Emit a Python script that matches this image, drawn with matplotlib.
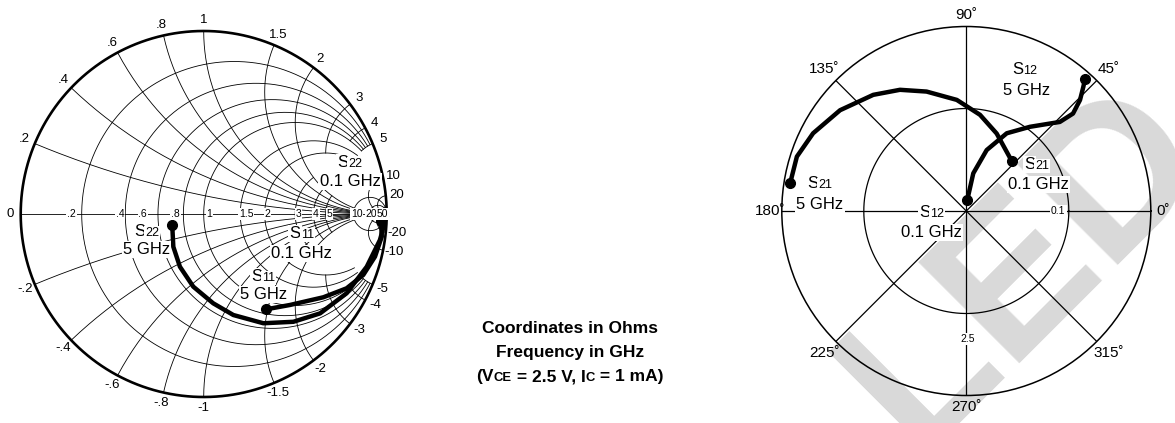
import numpy as np
import matplotlib
matplotlib.use("Agg")
import matplotlib.pyplot as plt
from matplotlib import transforms

FONT = "Liberation Sans"
plt.rcParams["font.family"] = [FONT, "DejaVu Sans"]

# ---- data ----
# Smith chart (reflection coefficient, real / imag), 0.1 GHz -> 5 GHz
s11_re = [0.969, 0.973, 0.936, 0.872, 0.781, 0.654, 0.472, 0.340]
s11_im = [-0.038, -0.124, -0.233, -0.333, -0.406, -0.455, -0.497, -0.521]
s22_re = [0.982, 0.981, 0.963, 0.891, 0.781, 0.636, 0.490, 0.326, 0.162, 0.052, -0.057, -0.130, -0.166, -0.172]
s22_im = [-0.011, -0.077, -0.142, -0.288, -0.433, -0.543, -0.589, -0.597, -0.552, -0.488, -0.397, -0.288, -0.179, -0.060]

# polar chart, 0.1 GHz -> 5 GHz
s21_mag = [1.65, 2.03, 2.37, 2.72, 3.07, 3.37, 3.63, 3.94, 4.19, 4.34, 4.35]
s21_ang = [47.9, 68.6, 81.9, 94.9, 108.4, 118.7, 128.7, 141.4, 153.1, 162.2, 171.1]
s12_mag = [0.0107, 0.0374, 0.0627, 0.0855, 0.103, 0.126, 0.141, 0.155, 0.1665, 0.173]
s12_ang = [85, 79.5, 71.5, 62.5, 52.9, 43.6, 42.4, 44.3, 46.7, 48]

# Smith grid values and how far each line runs
r_vals = [0.2, 0.4, 0.6, 0.8, 1, 1.5, 2, 3, 4, 5, 10, 20, 50]
r_xmax = [5, 5, 5, 5, 5, 5, 5, 2, 2, 2, None, None, None]
x_vals = [0.2, 0.4, 0.6, 0.8, 1, 1.5, 2, 3, 4, 5, 10, 20, 50]
x_rmax = [10, 10, 10, 10, 10, 10, 10, 2, 1, 1, None, None, None]
axis_labels = [".2", ".4", ".6", ".8", "1", "1.5", "2", "3", "4", "5", "10", "20", "50"]
axis_label_x = [71.7, 120, 142.7, 175.7, 209.3, 246, 267.3, 298.3, 316, 329.3, 356.7, 371.7, 382.7]
rim_labels = ["0", ".2", ".4", ".6", ".8", "1", "1.5", "2", "3", "4", "5", "10", "20"]

polar_angles = [0, 45, 90, 135, 180, 225, 270, 315]
S21_MAX = 4.5
S12_TO_S21 = 25.0   # 0.1 on the S12 scale sits on the 2.5 ring

W, H = 1175, 423
fig = plt.figure(figsize=(W / 100, H / 100), dpi=100)

# watermark in the back
bg = fig.add_axes([0, 0, 1, 1], zorder=0)
bg.set_xlim(0, W); bg.set_ylim(H, 0); bg.axis("off")
bg.text(1025, 267, "LED", fontsize=150, fontweight="bold", color="#d9d9d9",
        rotation=45, rotation_mode="anchor", ha="center", va="center")

# ---- Smith chart ----
CX, CY, R = 203.7, 214.0, 183.0
ax = fig.add_axes([0, 0, 410 / W, 1], zorder=1)
ax.set_xlim((0 - CX) / R, (410 - CX) / R)
ax.set_ylim((CY - H) / R, CY / R)
ax.axis("off")
ax.patch.set_visible(False)


def gamma(z):
    g = (z - 1) / (z + 1)
    return g.real, g.imag


grid_kw = dict(color="black", lw=0.6, zorder=1)
for r, xm in zip(r_vals, r_xmax):
    if xm is None:
        t = np.linspace(0, 2 * np.pi, 600)
        c, rho = r / (1 + r), 1 / (1 + r)
        ax.plot(c + rho * np.cos(t), rho * np.sin(t), **grid_kw)
    else:
        xs = np.linspace(-xm, xm, 800)
        ax.plot(*gamma(r + 1j * xs), **grid_kw)

for xv, rm in zip(x_vals, x_rmax):
    if rm is None:
        rs = np.concatenate([np.linspace(0, 10, 400), np.geomspace(10, 1e5, 400)])
    else:
        rs = np.linspace(0, rm, 500)
    for s in (1, -1):
        ax.plot(*gamma(rs + 1j * s * xv), **grid_kw)

ax.plot([-1, 1], [0, 0], **grid_kw)
t = np.linspace(0, 2 * np.pi, 800)
ax.plot(np.cos(t), np.sin(t), color="black", lw=1.9, zorder=2)

ax.plot(s11_re, s11_im, color="black", lw=3.2, solid_capstyle="round", zorder=6)
ax.plot(s22_re, s22_im, color="black", lw=3.2, solid_capstyle="round", zorder=6)
ax.plot([s11_re[0], s11_re[-1]], [s11_im[0], s11_im[-1]], "o", color="black", ms=7, zorder=7)
ax.plot([s22_re[0], s22_re[-1]], [s22_im[0], s22_im[-1]], "o", color="black", ms=7, zorder=7)

# ---- polar chart ----
PX, PY, PR = 966.3, 211.0, 184.5
pax = fig.add_axes([(PX - PR) / W, (H - PY - PR) / H, 2 * PR / W, 2 * PR / H],
                   projection="polar", zorder=1)
pax.set_ylim(0, S21_MAX)
pax.set_xticks([]); pax.set_yticks([])
pax.grid(False)
pax.patch.set_visible(False)
pax.spines["polar"].set_linewidth(1.1)
for a in polar_angles:
    pax.plot([np.radians(a)] * 2, [0, S21_MAX], color="black", lw=0.9, zorder=1)
th = np.linspace(0, 2 * np.pi, 600)
pax.plot(th, np.full_like(th, 2.5), color="black", lw=0.9, zorder=1)

pax.plot(np.radians(s21_ang), s21_mag, color="black", lw=3.2, zorder=6)
pax.plot(np.radians(s12_ang), np.array(s12_mag) * S12_TO_S21, color="black", lw=3.2, zorder=6)
pax.plot(np.radians([s21_ang[0], s21_ang[-1]]), [s21_mag[0], s21_mag[-1]], "o",
         color="black", ms=7, zorder=7)
pax.plot(np.radians([s12_ang[0], s12_ang[-1]]),
         [s12_mag[0] * S12_TO_S21, s12_mag[-1] * S12_TO_S21], "o", color="black", ms=7, zorder=7)

# ---- text layer in pixel coordinates ----
ov = fig.add_axes([0, 0, 1, 1], zorder=5)
ov.set_xlim(0, W); ov.set_ylim(H, 0); ov.axis("off")
ov.patch.set_visible(False)
renderer = fig.canvas.get_renderer()
WHITE = dict(facecolor="white", edgecolor="none", pad=0.8)


def rich(x, y, parts, size, weight="normal", box=True):
    """parts: (text, small) pieces set on one baseline, centred on x; y = middle of caps"""
    base = y + 0.36 * size * 100 / 72
    items = []
    for s, small in parts:
        tt = ov.text(x, base, s, fontsize=size * 0.75 if small else size, fontweight=weight,
                     ha="left", va="baseline", bbox=WHITE if box else None, zorder=5)
        items.append((tt, tt.get_window_extent(renderer).width))
    off = -sum(w for _, w in items) / 2
    for tt, w in items:
        tt.set_transform(transforms.offset_copy(ov.transData, fig=fig, x=off, y=0, units="dots"))
        off += w


# Smith axis labels
for s, x in zip(axis_labels, axis_label_x):
    ov.text(x, CY, s, fontsize=7.5, ha="center", va="center", bbox=dict(facecolor="white", edgecolor="none", pad=0.6))

# rim labels
for s, xv in zip(rim_labels, [0] + x_vals[:12]):
    a = np.pi - 2 * np.arctan(xv)
    for sign in ((1,) if xv == 0 else (1, -1)):
        lab = s if sign > 0 else "-" + s
        ov.text(CX + 1.06 * R * np.cos(a), CY - sign * 1.06 * R * np.sin(a), lab,
                fontsize=9.5, ha="center", va="center")

S = "S"
rich(350, 161, [(S, False), ("22", True)], 12)
rich(350, 180, [("0.1 GHz", False)], 12)
rich(146.7, 230, [(S, False), ("22", True)], 12)
rich(146.7, 248.3, [("5 GHz", False)], 12)
rich(301.7, 232.3, [(S, False), ("11", True)], 12)
rich(301.7, 251.7, [("0.1 GHz", False)], 12)
rich(263.3, 275, [(S, False), ("11", True)], 12)
rich(263.3, 293.3, [("5 GHz", False)], 12)

# polar labels
for a in polar_angles:
    rr = 1.065 * PR if a % 90 == 0 else 1.09 * PR
    ov.text(PX + rr * np.cos(np.radians(a)), PY - rr * np.sin(np.radians(a)), f"{a}\u02da",
            fontsize=11, ha="center", va="center")
ov.text(1058.3, PY, "0.1", fontsize=7.5, ha="center", va="center", bbox=WHITE)
ov.text(967.3, 339.3, "2.5", fontsize=7.5, ha="center", va="center", bbox=WHITE)

rich(1025, 68.3, [(S, False), ("12", True)], 12, box=False)
rich(1026.7, 89.3, [("5 GHz", False)], 12, box=False)
rich(1036.7, 163.3, [(S, False), ("21", True)], 12)
rich(1038.3, 183.3, [("0.1 GHz", False)], 12)
rich(820, 181.7, [(S, False), ("21", True)], 12)
rich(820, 202.7, [("5 GHz", False)], 12)
rich(931.7, 210.7, [(S, False), ("12", True)], 12)
rich(931.7, 230.7, [("0.1 GHz", False)], 12)

# centre caption
rich(570, 327, [("Coordinates in Ohms", False)], 12.5, "bold", box=False)
rich(570, 351, [("Frequency in GHz", False)], 12.5, "bold", box=False)
rich(570, 375, [("(V", False), ("CE", True), (" = 2.5 V, I", False), ("C", True),
                (" = 1 mA)", False)], 12.5, "bold", box=False)

fig.savefig("out.png", dpi=100)
